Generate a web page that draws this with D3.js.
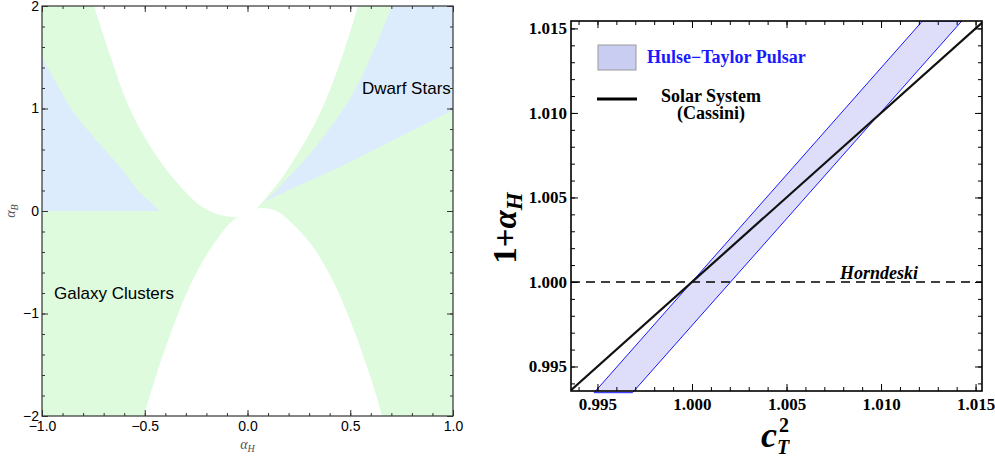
<!DOCTYPE html>
<html>
  <head>
    <meta charset="utf-8">
    <script src="https://cdnjs.cloudflare.com/ajax/libs/d3/7.8.5/d3.min.js"></script>
    <style>
      body { margin: 0; background: #fff; }
      svg { display: block; }
    </style>
  </head>
  <body>
    <div id="vis"></div>
    <script type="text/javascript">

        // ---- left panel: alpha_H vs alpha_B regions ----
        const alphaHTicks = [-1, -0.5, 0, 0.5, 1];
        const alphaBTicks = [-2, -1, 0, 1, 2];

        // dwarf star allowed regions (boundaries)
        const dwarfLeftEdge = [[-1, 1.5], [-0.93, 1.25], [-0.854, 0.985], [-0.74, 0.70],
                               [-0.62, 0.43], [-0.523, 0.18], [-0.474, 0.09], [-0.426, 0]];
        const dwarfRightUpperEdge = [[0.06, 0.07], [0.12, 0.16], [0.173, 0.273], [0.319, 0.595],
                                     [0.523, 1.18], [0.703, 2]];
        const dwarfRightLowerEdge = [[0.06, 0.07], [0.11, 0.12], [0.45, 0.43], [1, 0.985]];

        // regions excluded by both constraints (white)
        const excludedUpper = [[-0.747, 2], [-0.665, 1.5], [-0.58, 1.03], [-0.5, 0.72], [-0.42, 0.47],
                               [-0.34, 0.27], [-0.27, 0.12], [-0.2, 0.015], [-0.13, -0.04], [-0.05, -0.059],
                               [0.0, -0.02], [0.046, 0.03], [0.09, 0.13], [0.16, 0.3], [0.255, 0.595],
                               [0.33, 0.86], [0.401, 1.18], [0.47, 1.56], [0.538, 2]];
        const excludedLower = [[-0.504, -2], [-0.45, -1.64], [-0.4, -1.34], [-0.3, -0.82],
                               [-0.2, -0.43], [-0.1, -0.15], [-0.05, -0.06], [0, -0.005],
                               [0.046, 0.025], [0.075, 0.03], [0.11, 0.02], [0.15, -0.01],
                               [0.2, -0.09], [0.3, -0.3], [0.4, -0.62], [0.5, -1.07],
                               [0.6, -1.63], [0.655, -2]];

        // ---- right panel: c_T^2 vs 1+alpha_H ----
        const cTTicks = [0.995, 1.000, 1.005, 1.010, 1.015];
        const oneAlphaTicks = [0.995, 1.000, 1.005, 1.010, 1.015];
        const hulseTaylorBand = [[0.99482, 0.99345], [1.01219, 1.01544], [1.01427, 1.01544], [0.99685, 0.99345]];
        const cassini = [[0.9935, 0.9935], [1.0155, 1.0155]];
        const horndeski = 1.000;

        const green = "#defbde";
        const blue = "#ddecfc";

        const svg = d3.select("#vis").append("svg")
            .attr("width", 995)
            .attr("height", 459);

        // ================= LEFT =================
        const xL = d3.scaleLinear().domain([-1, 1]).range([42, 453]);
        const yL = d3.scaleLinear().domain([-2, 2]).range([416, 6]);

        svg.append("clipPath").attr("id", "clipL")
            .append("rect")
            .attr("x", xL(-1)).attr("y", yL(2))
            .attr("width", xL(1) - xL(-1)).attr("height", yL(-2) - yL(2));

        const gL = svg.append("g").attr("clip-path", "url(#clipL)");
        const smoothL = d3.line().x(d => xL(d[0])).y(d => yL(d[1]))
            .curve(d3.curveCatmullRom.alpha(0.5));
        const straightL = d3.line().x(d => xL(d[0])).y(d => yL(d[1]));

        gL.append("rect")
            .attr("x", xL(-1)).attr("y", yL(2))
            .attr("width", xL(1) - xL(-1)).attr("height", yL(-2) - yL(2))
            .attr("fill", green);

        // left dwarf region: curve edge, then along alpha_B = 0 back to the frame
        gL.append("path")
            .attr("d", smoothL(dwarfLeftEdge) + `L${xL(-1)},${yL(0)}Z`)
            .attr("fill", blue);

        // right dwarf wedge
        gL.append("path")
            .attr("d", smoothL(dwarfRightUpperEdge)
                + `L${xL(1)},${yL(2)}`
                + straightL(dwarfRightLowerEdge.slice().reverse()).replace(/^M/, "L") + "Z")
            .attr("fill", blue);

        gL.selectAll("path.excl")
            .data([excludedUpper, excludedLower])
            .join("path")
            .attr("class", "excl")
            .attr("d", d => smoothL(d) + "Z")
            .attr("fill", "#fff");

        // ticks, Mathematica style: inward on all four sides
        function frameAxes(x, y, o) {
            const [x0, x1] = x.range();
            const [y0, y1] = y.range();
            const sides = [
                {mk: d3.axisBottom, sc: x, t: `translate(0,${y0})`, ticks: o.xTicks, minor: o.xMinor, fmt: o.xFmt, pad: o.xPad},
                {mk: d3.axisTop, sc: x, t: `translate(0,${y1})`, ticks: o.xTicks, minor: o.xMinor, fmt: null},
                {mk: d3.axisLeft, sc: y, t: `translate(${x0},0)`, ticks: o.yTicks, minor: o.yMinor, fmt: o.yFmt, pad: o.yPad},
                {mk: d3.axisRight, sc: y, t: `translate(${x1},0)`, ticks: o.yTicks, minor: o.yMinor, fmt: null}
            ];
            sides.forEach(s => {
                svg.append("g").attr("transform", s.t)
                    .call(s.mk(s.sc).tickValues(s.minor)
                        .tickSize(-o.minor).tickSizeOuter(0).tickFormat(""))
                    .call(g => g.select(".domain").remove())
                    .call(g => g.selectAll("line").attr("stroke", o.color).attr("stroke-width", o.tw));
                svg.append("g").attr("transform", s.t)
                    .call(s.mk(s.sc).tickValues(s.ticks).tickSize(-o.major).tickSizeOuter(0)
                        .tickPadding(s.pad || 3)
                        .tickFormat(s.fmt ? s.fmt : ""))
                    .call(g => g.select(".domain").remove())
                    .call(g => g.selectAll("line").attr("stroke", o.color).attr("stroke-width", o.tw))
                    .call(g => g.selectAll("text")
                        .attr("fill", "#000")
                        .style("font-family", o.font)
                        .style("font-size", o.fontSize)
                        .style("font-weight", o.weight));
            });
            svg.append("rect")
                .attr("x", x0).attr("y", y1)
                .attr("width", x1 - x0).attr("height", y0 - y1)
                .attr("fill", "none")
                .attr("stroke", o.color)
                .attr("stroke-width", o.fw);
        }

        frameAxes(xL, yL, {
            xTicks: alphaHTicks, yTicks: alphaBTicks,
            xMinor: xL.ticks(20), yMinor: yL.ticks(20),
            xFmt: d3.format(".1f"), yFmt: d3.format("d"),
            xPad: 5, yPad: 3,
            major: 6, minor: 3, color: "#333", tw: 1, fw: 1.2,
            font: "'Liberation Sans', Arial, sans-serif", fontSize: "14px", weight: "normal"
        });

        svg.append("text")
            .attr("x", 362).attr("y", 94)
            .style("font-family", "'Liberation Sans', Arial, sans-serif")
            .style("font-size", "17px")
            .text("Dwarf Stars");
        svg.append("text")
            .attr("x", 54).attr("y", 299)
            .style("font-family", "'Liberation Sans', Arial, sans-serif")
            .style("font-size", "17px")
            .text("Galaxy Clusters");

        const labL = svg.append("text")
            .attr("x", (xL(-1) + xL(1)) / 2).attr("y", 449)
            .attr("text-anchor", "middle")
            .attr("fill", "#555")
            .style("font-family", "'Liberation Serif', 'Times New Roman', serif")
            .style("font-style", "italic")
            .style("font-size", "14px");
        labL.append("tspan").text("α");
        labL.append("tspan").attr("dy", 3).style("font-size", "10px").text("H");

        const labB = svg.append("text")
            .attr("transform", `translate(15,${yL(0)}) rotate(-90)`)
            .attr("text-anchor", "middle")
            .attr("fill", "#555")
            .style("font-family", "'Liberation Serif', 'Times New Roman', serif")
            .style("font-style", "italic")
            .style("font-size", "14px");
        labB.append("tspan").text("α");
        labB.append("tspan").attr("dy", 3).style("font-size", "10px").text("B");

        // ================= RIGHT =================
        const xR = d3.scaleLinear().domain([0.9936, 1.01534]).range([571, 982]);
        const yR = d3.scaleLinear().domain([0.99355, 1.01544]).range([391, 21]);

        svg.append("clipPath").attr("id", "clipR")
            .append("rect")
            .attr("x", xR.range()[0]).attr("y", yR.range()[1])
            .attr("width", xR.range()[1] - xR.range()[0])
            .attr("height", yR.range()[0] - yR.range()[1] + 3);
        svg.append("clipPath").attr("id", "clipR2")
            .append("rect")
            .attr("x", xR.range()[0]).attr("y", yR.range()[1])
            .attr("width", xR.range()[1] - xR.range()[0])
            .attr("height", yR.range()[0] - yR.range()[1]);

        const lineR = d3.line().x(d => xR(d[0])).y(d => yR(d[1]));

        svg.append("path")
            .attr("clip-path", "url(#clipR)")
            .attr("d", lineR(hulseTaylorBand) + "Z")
            .attr("fill", "#dedefa")
            .attr("stroke", "#1a1aff")
            .attr("stroke-width", 1);

        svg.append("line")
            .attr("clip-path", "url(#clipR2)")
            .attr("x1", xR.range()[0]).attr("x2", xR.range()[1])
            .attr("y1", yR(horndeski)).attr("y2", yR(horndeski))
            .attr("stroke", "#000")
            .attr("stroke-width", 1.3)
            .attr("stroke-dasharray", "9,6");

        svg.append("path")
            .attr("clip-path", "url(#clipR2)")
            .attr("d", lineR(cassini))
            .attr("fill", "none")
            .attr("stroke", "#111")
            .attr("stroke-width", 2.2);

        frameAxes(xR, yR, {
            xTicks: cTTicks, yTicks: oneAlphaTicks,
            xMinor: xR.ticks(20), yMinor: yR.ticks(20),
            xFmt: d3.format(".3f"), yFmt: d3.format(".3f"),
            xPad: 7, yPad: 4,
            major: 7, minor: 4, color: "#000", tw: 1, fw: 1.6,
            font: "'Liberation Serif', 'Times New Roman', serif", fontSize: "17px", weight: "bold"
        });

        const serif = "'Liberation Serif', 'Times New Roman', serif";

        // legend
        svg.append("rect")
            .attr("x", 598).attr("y", 45).attr("width", 38).attr("height", 25)
            .attr("fill", "#c9cdf2").attr("stroke", "#999").attr("stroke-width", 1);
        svg.append("text")
            .attr("x", 647).attr("y", 63)
            .attr("fill", "#1a1aff")
            .style("font-family", serif).style("font-weight", "bold").style("font-size", "18px")
            .text("Hulse−Taylor Pulsar");
        svg.append("line")
            .attr("x1", 597).attr("x2", 637).attr("y1", 99).attr("y2", 99)
            .attr("stroke", "#000").attr("stroke-width", 2.8);
        svg.append("text")
            .attr("x", 711).attr("y", 102).attr("text-anchor", "middle")
            .style("font-family", serif).style("font-weight", "bold").style("font-size", "18px")
            .text("Solar System");
        svg.append("text")
            .attr("x", 711).attr("y", 119).attr("text-anchor", "middle")
            .style("font-family", serif).style("font-weight", "bold").style("font-size", "18px")
            .text("(Cassini)");

        svg.append("text")
            .attr("x", 840).attr("y", yR(horndeski) - 3)
            .style("font-family", serif).style("font-weight", "bold")
            .style("font-style", "italic").style("font-size", "18px")
            .text("Horndeski");

        // axis titles
        const yt = svg.append("text")
            .attr("transform", `translate(516,${(yR.range()[0] + yR.range()[1]) / 2 + 22}) rotate(-90)`)
            .attr("text-anchor", "middle")
            .style("font-family", serif).style("font-weight", "bold").style("font-size", "33px");
        yt.append("tspan").text("1+");
        yt.append("tspan").style("font-style", "italic").text("α");
        yt.append("tspan").attr("dy", 6).style("font-style", "italic").style("font-size", "23px").text("H");

        svg.append("text")
            .attr("x", 761).attr("y", 447)
            .style("font-family", serif).style("font-weight", "bold")
            .style("font-style", "italic").style("font-size", "36px")
            .text("c");
        svg.append("text")
            .attr("x", 779).attr("y", 432)
            .style("font-family", serif).style("font-weight", "bold")
            .style("font-size", "20px")
            .text("2");
        svg.append("text")
            .attr("x", 777).attr("y", 454)
            .style("font-family", serif).style("font-weight", "bold")
            .style("font-style", "italic").style("font-size", "20px")
            .text("T");

    </script>
  </body>
</html>
